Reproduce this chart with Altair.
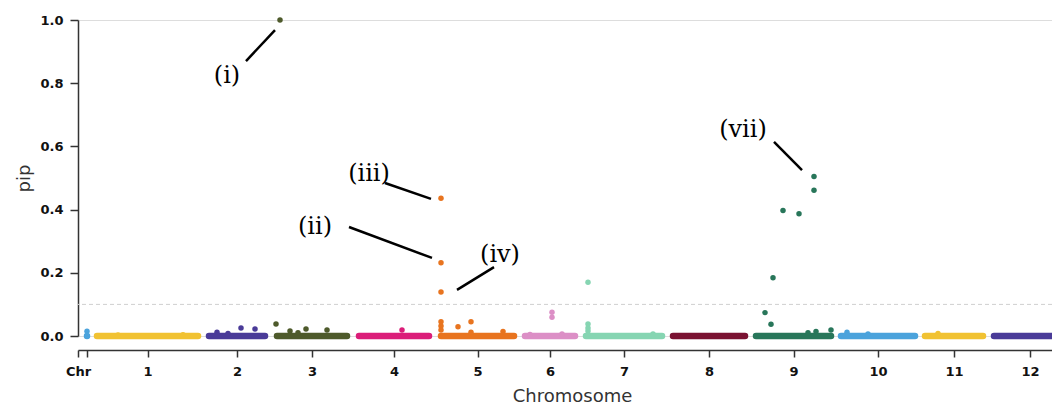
import altair as alt
import pandas as pd

# Chromosomes (position units along the genome axis)
chroms = ["0", "1", "2", "3", "4", "5", "6", "7", "8", "9", "10", "11", "12"]
chrom_start = [9, 19, 131, 199, 281, 363, 447, 508, 595, 678, 763, 847, 916]
chrom_end = [9, 120, 187, 269, 351, 436, 497, 584, 667, 753, 837, 905, 988]
chrom_colors = ["#4ba3dc", "#f1c232", "#4a3b98", "#4e5a2b", "#db1d79", "#e8741f",
                "#dc8fc6", "#86d5b2", "#7a1232", "#28765a", "#4ba3dc", "#f1c232", "#4a3b98"]

# Notable SNPs (chromosome, position, pip)
snp_chrom = ["0", "0", "1", "1", "2", "2", "2", "2",
             "3", "3", "3", "3", "3", "3",
             "4",
             "5", "5", "5", "5", "5", "5", "5", "5", "5", "5",
             "6", "6", "6", "6",
             "7", "7", "7", "7", "7",
             "9", "9", "9", "9", "9", "9", "9", "9", "9", "9",
             "10", "10", "11"]
snp_pos = [9, 9, 40, 105, 139, 150, 163, 177,
           198, 212, 220, 228, 249, 202,
           324,
           363, 363, 363, 363, 363, 363, 380, 393, 393, 425,
           474, 474, 452, 484,
           510, 510, 510, 510, 575,
           736, 736, 705, 721, 695, 687, 693, 753, 738, 730,
           769, 790, 860]
snp_pip = [0.0, 0.015, 0.003, 0.004, 0.012, 0.008, 0.025, 0.022,
           0.038, 0.016, 0.010, 0.022, 0.019, 1.0,
           0.019,
           0.436, 0.232, 0.139, 0.045, 0.032, 0.019, 0.029, 0.045, 0.012, 0.014,
           0.075, 0.059, 0.005, 0.006,
           0.170, 0.038, 0.025, 0.016, 0.006,
           0.505, 0.461, 0.397, 0.387, 0.184, 0.074, 0.037, 0.019, 0.014, 0.010,
           0.012, 0.006, 0.008]

threshold = [0.1]

# Axis ticks
tick_values = [0, 9, 69.5, 159, 234, 316, 399.5, 472, 546, 631, 715.5, 800, 876, 952]
tick_labels = ["Chr", "", "1", "2", "3", "4", "5", "6", "7", "8", "9", "10", "11", "12"]
y_ticks = [0.0, 0.2, 0.4, 0.6, 0.8, 1.0]

# Annotations
ann_text = ["(i)", "(iii)", "(ii)", "(iv)", "(vii)"]
ann_x = [149, 291, 237, 422, 665]
ann_y = [0.823, 0.513, 0.345, 0.256, 0.652]
ann_x1 = [168, 307, 271, 379, 696]
ann_y1 = [0.870, 0.484, 0.345, 0.146, 0.614]
ann_x2 = [197, 353, 354, 416, 724]
ann_y2 = [0.968, 0.434, 0.247, 0.218, 0.525]

X_MAX = 974

bands = pd.DataFrame({"chrom": chroms, "start": chrom_start, "end": chrom_end,
                      "base": [0.0] * len(chroms)})
snps = pd.DataFrame({"chrom": snp_chrom, "pos": snp_pos, "pip": snp_pip})
thr = pd.DataFrame({"pip": threshold})
ann = pd.DataFrame({"label": ann_text, "x": ann_x, "y": ann_y})
seg = pd.DataFrame({"x1": ann_x1, "y1": ann_y1, "x2": ann_x2, "y2": ann_y2})

label_map = "{" + ",".join(f"'{v}':'{l}'" for v, l in zip(tick_values, tick_labels)) + "}"

xscale = alt.Scale(domain=[0, X_MAX], nice=False, zero=False)
yscale = alt.Scale(domain=[0, 1], nice=False)
color = alt.Color("chrom:N", scale=alt.Scale(domain=chroms, range=chrom_colors), legend=None)

xaxis = alt.Axis(values=tick_values, labelExpr=label_map + "[datum.value + '']",
                 title="Chromosome", offset=14, grid=False,
                 domainColor="#333", domainWidth=1.5, tickColor="#333", tickWidth=1.5,
                 tickSize=7, labelFont="DejaVu Sans", labelFontWeight="bold",
                 labelFontSize=13, labelColor="#111", labelPadding=8, labelFlush=False,
                 labelAlign="center",
                 titleFont="DejaVu Sans", titleFontSize=18, titleFontWeight="normal",
                 titleColor="#333", titlePadding=9, titleX=494)
yaxis = alt.Axis(values=y_ticks, format=".1f", title="pip", grid=False,
                 domainColor="#333", domainWidth=1.5, tickColor="#333", tickWidth=1.5,
                 tickSize=8, labelFont="DejaVu Sans", labelFontWeight="bold",
                 labelFontSize=13, labelColor="#111", labelPadding=7,
                 titleFont="DejaVu Sans", titleFontSize=18, titleFontWeight="normal",
                 titleColor="#333", titlePadding=6)

thr_layer = alt.Chart(thr).mark_rule(color="#cfcfcf", strokeDash=[4, 3], strokeWidth=1).encode(
    y=alt.Y("pip:Q", scale=yscale, axis=yaxis))

band_layer = alt.Chart(bands).mark_rule(strokeWidth=6.5, strokeCap="round").encode(
    x=alt.X("start:Q", scale=xscale, axis=xaxis),
    x2="end:Q",
    y=alt.Y("base:Q", scale=yscale, axis=yaxis),
    color=color)

pt_layer = alt.Chart(snps).mark_circle(size=30, opacity=1).encode(
    x=alt.X("pos:Q", scale=xscale, axis=xaxis),
    y=alt.Y("pip:Q", scale=yscale, axis=yaxis),
    color=color)

seg_layer = alt.Chart(seg).mark_rule(color="black", strokeWidth=2.5).encode(
    x=alt.X("x1:Q", scale=xscale, axis=xaxis), x2="x2:Q",
    y=alt.Y("y1:Q", scale=yscale, axis=yaxis), y2="y2:Q")

txt_layer = alt.Chart(ann).mark_text(font="DejaVu Serif", fontSize=24, color="black",
                                     align="center", baseline="middle").encode(
    x=alt.X("x:Q", scale=xscale, axis=xaxis),
    y=alt.Y("y:Q", scale=yscale, axis=yaxis),
    text="label:N")

chart = alt.layer(thr_layer, band_layer, pt_layer, seg_layer, txt_layer).properties(
    width=X_MAX, height=316,
    autosize=alt.AutoSizeParams(type="none"),
    padding={"left": 70, "top": 12, "right": 0, "bottom": 70},
).configure_view(stroke=None).configure(background="white")

chart.save("out.html", embed_options={"renderer": "svg", "actions": False})
